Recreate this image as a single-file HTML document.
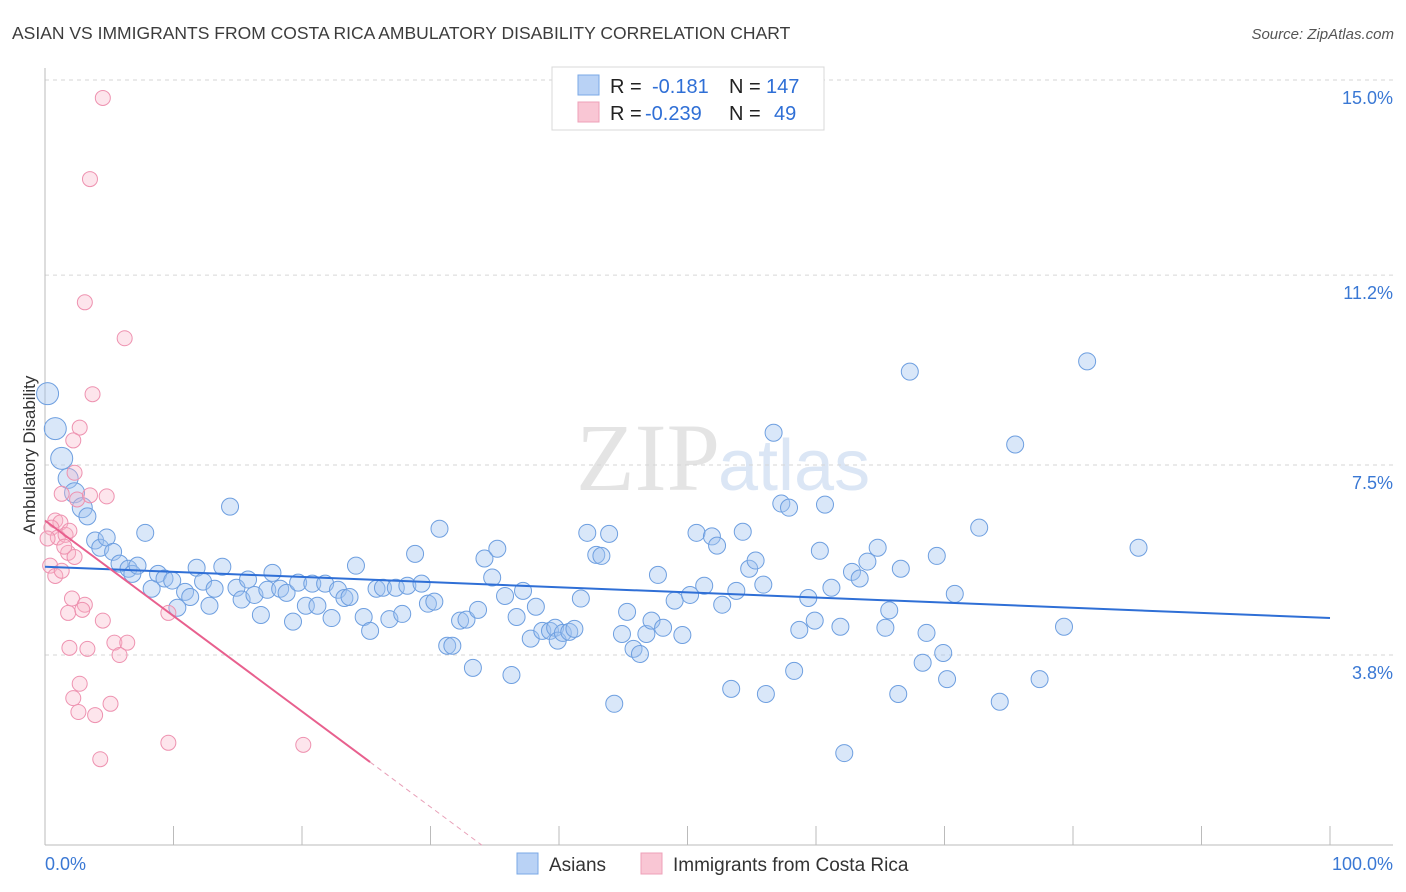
<!DOCTYPE html>
<html><head><meta charset="utf-8"><style>
body{margin:0;background:#fff;font-family:"Liberation Sans",sans-serif;}
#wrap{position:relative;width:1406px;height:892px;overflow:hidden;}
</style></head><body>
<div id="wrap">
<svg id="svg" width="1406" height="892" xmlns="http://www.w3.org/2000/svg">
<text x="12" y="39" font-size="17.5" fill="#3c3c3c">ASIAN VS IMMIGRANTS FROM COSTA RICA AMBULATORY DISABILITY CORRELATION CHART</text>
<text x="1394" y="39" font-size="15" fill="#555" font-style="italic" text-anchor="end">Source: ZipAtlas.com</text>
<text x="720" y="490" font-size="96" fill="#e4e4e4" font-family="Liberation Serif,serif" text-anchor="end">ZIP</text>
<text x="718" y="490" font-size="72" fill="#dbe6f5" text-anchor="start">atlas</text>
<text transform="translate(35,455) rotate(-90)" font-size="17" fill="#333" text-anchor="middle">Ambulatory Disability</text>
<g id="grid"></g><g id="marks"></g>
<g>
<rect x="552" y="67" width="272" height="63" fill="#fff" stroke="#d8d8d8"/>
<rect x="578" y="75" width="21" height="20" fill="#b9d2f5" stroke="#7aa8e6"/>
<rect x="578" y="102" width="21" height="20" fill="#f9c6d4" stroke="#eea0b8"/>
<text x="610" y="93" font-size="20" fill="#222">R = <tspan fill="#2f6fd6" x="652">-0.181</tspan><tspan fill="#222" x="729">N = </tspan><tspan fill="#2f6fd6" x="766">147</tspan></text>
<text x="610" y="120" font-size="20" fill="#222">R = <tspan fill="#2f6fd6" x="645">-0.239</tspan><tspan fill="#222" x="729">N = </tspan><tspan fill="#2f6fd6" x="774">49</tspan></text>
</g>
<g>
<rect x="517" y="853" width="21" height="21" fill="#b9d2f5" stroke="#7aa8e6"/>
<text x="549" y="871" font-size="19" fill="#333">Asians</text>
<rect x="641" y="853" width="21" height="21" fill="#f9c6d4" stroke="#eea0b8"/>
<text x="673" y="871" font-size="19" fill="#333">Immigrants from Costa Rica</text>
</g>
</svg></div>
<script>
const asianX=[0.2,0.8,1.3,1.8,2.3,2.9,3.3,3.9,4.3,4.8,5.3,5.8,6.5,6.8,7.2,7.8,8.3,8.8,9.3,9.9,10.3,10.9,11.3,11.8,12.3,12.8,13.2,13.8,14.4,14.9,15.3,15.8,16.3,16.8,17.3,17.7,18.3,18.8,19.3,19.7,20.3,20.8,21.2,21.8,22.3,22.8,23.3,23.7,24.2,24.8,25.3,25.8,26.3,26.8,27.3,27.8,28.2,28.8,29.3,29.8,30.3,30.7,31.3,31.7,32.3,32.8,33.3,33.7,34.2,34.8,35.2,35.8,36.3,36.7,37.2,37.8,38.2,38.7,39.3,39.7,39.9,40.3,40.8,41.2,41.7,42.2,42.9,43.3,43.9,44.3,44.9,45.3,45.8,46.3,46.8,47.2,47.7,48.1,49.0,49.6,50.2,50.7,51.3,51.9,52.3,52.7,53.4,53.8,54.3,54.8,55.3,55.9,56.1,56.7,57.3,57.9,58.3,58.7,59.4,59.9,60.3,60.7,61.2,61.9,62.2,62.8,63.4,64.0,64.8,65.4,65.7,66.4,66.6,67.3,68.3,68.6,69.4,69.9,70.2,70.8,72.7,74.3,75.5,77.4,79.3,81.1,85.1];
const asianY=[8.89,8.21,7.63,7.24,6.96,6.67,6.50,6.03,5.89,6.09,5.81,5.58,5.48,5.38,5.54,6.18,5.09,5.38,5.29,5.25,4.72,5.03,4.93,5.50,5.23,4.76,5.09,5.52,6.69,5.11,4.88,5.27,4.97,4.58,5.07,5.40,5.09,5.01,4.45,5.21,4.76,5.19,4.76,5.19,4.52,5.07,4.91,4.93,5.54,4.54,4.27,5.09,5.11,4.50,5.11,4.60,5.15,5.77,5.19,4.80,4.84,6.26,3.98,3.98,4.47,4.49,3.55,4.68,5.68,5.31,5.87,4.95,3.41,4.54,5.05,4.12,4.74,4.27,4.27,4.33,4.08,4.23,4.25,4.31,4.90,6.18,5.75,5.73,6.16,2.85,4.21,4.64,3.92,3.82,4.21,4.47,5.36,4.33,4.86,4.19,4.97,6.18,5.15,6.11,5.93,4.78,3.14,5.05,6.20,5.48,5.64,5.17,3.04,8.13,6.75,6.67,3.49,4.29,4.91,4.47,5.83,6.73,5.11,4.35,1.89,5.42,5.29,5.62,5.89,4.33,4.67,3.04,5.48,9.32,3.65,4.23,5.73,3.84,3.33,4.99,6.28,2.89,7.90,3.33,4.35,9.52,5.89];
const costaX=[4.5,3.5,3.1,6.2,3.7,2.7,2.2,2.3,1.3,2.5,4.8,3.5,0.8,1.2,0.5,1.0,1.6,0.2,1.9,0.4,0.8,1.3,1.8,2.3,1.5,2.1,3.1,1.8,2.9,4.5,9.6,1.9,3.3,5.4,6.4,5.8,2.7,2.2,5.1,2.6,3.9,9.6,20.1,4.3];
const costaY=[14.65,13.07,10.67,9.97,8.88,8.23,7.98,7.35,6.94,6.83,6.89,6.91,6.42,6.38,6.28,6.09,6.14,6.07,6.22,5.54,5.34,5.44,5.79,5.71,5.91,4.90,4.78,4.62,4.68,4.47,4.62,3.94,3.92,4.04,4.04,3.80,3.24,2.96,2.85,2.69,2.63,2.09,2.05,1.77];
const yTicks=[15.0,11.2,7.5,3.8];
const yTickLabels=["15.0%","11.2%","7.5%","3.8%"];
const xTicks=[0,10,20,30,40,50,60,70,80,90,100];
const asianTrend=[5.52,4.52];
const costaTrend=[6.42,-0.186];
const costaSolidEnd=25.3, costaDashEnd=34.0;

const NS="http://www.w3.org/2000/svg";
const xS=v=>45+v*12.85;
const yS=v=>80+(15-v)*51.34;
function mk(tag,attrs,parent){const e=document.createElementNS(NS,tag);for(const k in attrs)e.setAttribute(k,attrs[k]);parent.appendChild(e);return e;}
const grid=document.getElementById('grid'), marks=document.getElementById('marks');
yTicks.forEach((t,i)=>{
  const l=mk('line',{x1:45,x2:1393,y1:yS(t),y2:yS(t),stroke:'#d6d6d6','stroke-dasharray':'4,4'},grid);
  
  
  const tx=mk('text',{x:1393,y:yS(t)+24,'font-size':18,fill:'#3a78d4','text-anchor':'end'},grid);
  tx.textContent=yTickLabels[i];
  
  
});
const ax=mk('line',{x1:45,x2:45,y1:68,y2:845,stroke:'#bbb'},grid);


const bx=mk('line',{x1:45,x2:1393,y1:845,y2:845,stroke:'#bbb'},grid);


xTicks.forEach(t=>{
  const l=mk('line',{x1:xS(t),x2:xS(t),y1:826,y2:845,stroke:'#bbb'},grid);
  
  
});
const x0=mk('text',{x:45,y:870,'font-size':18,fill:'#3a78d4'},grid);x0.textContent='0.0%';


const x1=mk('text',{x:1393,y:870,'font-size':18,fill:'#3a78d4','text-anchor':'end'},grid);x1.textContent='100.0%';



const n=Math.min(asianX.length,asianY.length);
for(let i=0;i<n;i++){
  const r=i<3?11:(i<6?10:8.5);
  const c=mk('circle',{cx:xS(asianX[i]),cy:yS(asianY[i]),r:r,fill:'rgba(160,196,240,0.4)',stroke:'#6e9fe0','stroke-width':1},marks);
  
  
}
const m=Math.min(costaX.length,costaY.length);
for(let i=0;i<m;i++){
  const c=mk('circle',{cx:xS(costaX[i]),cy:yS(costaY[i]),r:7.5,fill:'rgba(248,180,200,0.35)',stroke:'#ee92b0','stroke-width':1},marks);
  
  
}
const bl=mk('line',{x1:xS(0),y1:yS(asianTrend[0]),x2:xS(100),y2:yS(asianTrend[1]),stroke:'#2f6fd6','stroke-width':2},marks);


const pY=x=>costaTrend[0]+costaTrend[1]*x;
const pl=mk('line',{x1:xS(0),y1:yS(pY(0)),x2:xS(costaSolidEnd),y2:yS(pY(costaSolidEnd)),stroke:'#e8608e','stroke-width':2},marks);


const pd=mk('line',{x1:xS(costaSolidEnd),y1:yS(pY(costaSolidEnd)),x2:xS(costaDashEnd),y2:yS(pY(costaDashEnd)),stroke:'#e8a0b8','stroke-width':1,'stroke-dasharray':'5,4'},marks);


</script>
</body></html>
